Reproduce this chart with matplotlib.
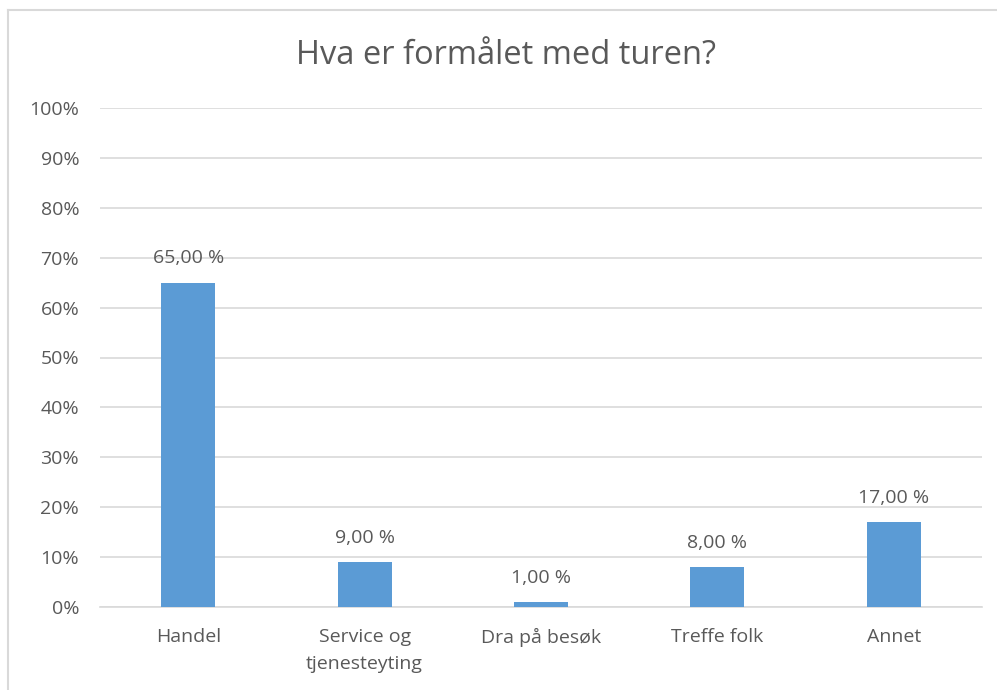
import matplotlib
matplotlib.use('Agg')
import matplotlib.pyplot as plt
from matplotlib.lines import Line2D

# Data
categories = ['Handel', 'Service og\ntjenesteyting', 'Dra på besøk', 'Treffe folk', 'Annet']
shares = [65.0, 9.0, 1.0, 8.0, 17.0]
yticks = [0, 10, 20, 30, 40, 50, 60, 70, 80, 90, 100]

text_col = '#595959'
grid_col = '#D9D9D9'
bar_col = '#5B9BD5'

plt.rcParams['font.family'] = ['Open Sans', 'DejaVu Sans']

fig = plt.figure(figsize=(9.97, 6.9), dpi=100)
ax = fig.add_axes([100 / 997, 1 - 607 / 690, 882 / 997, 499 / 690])

x = list(range(len(categories)))
ax.bar(x, shares, width=0.306, color=bar_col, zorder=3)

for xi, v in zip(x, shares):
    label = f'{v:.2f} %'.replace('.', ',')
    ax.annotate(label, (xi, v), xytext=(0, 11), textcoords='offset points',
                ha='center', va='bottom', fontsize=14, color=text_col)

ax.set_xlim(-0.5, len(categories) - 0.5)
ax.set_ylim(0, 100)
ax.set_yticks(yticks)
ax.set_yticklabels([f'{t}%' for t in yticks])
ax.set_xticks(x)
ax.set_xticklabels(categories, linespacing=1.65)
ax.tick_params(axis='y', length=0, pad=15, labelsize=14, labelcolor=text_col)
ax.tick_params(axis='x', length=0, pad=15, labelsize=14, labelcolor=text_col)
ax.grid(axis='y', color=grid_col, linewidth=1.2, zorder=0)
for s in ['top', 'right', 'left']:
    ax.spines[s].set_visible(False)
ax.spines['bottom'].set_color(grid_col)
ax.spines['bottom'].set_linewidth(1.2)

fig.text(506 / 997, 1 - 64 / 690, 'Hva er formålet med turen?', ha='center',
         va='baseline', fontsize=23.5, color=text_col)

# chart border (left and top edges visible)
fig.add_artist(Line2D([7.5 / 997, 7.5 / 997], [0, 1 - 10 / 690], color=grid_col,
                      linewidth=1.5, transform=fig.transFigure))
fig.add_artist(Line2D([7.5 / 997, 1], [1 - 10 / 690, 1 - 10 / 690], color=grid_col,
                      linewidth=1.5, transform=fig.transFigure))

fig.savefig('out.png', dpi=100)
